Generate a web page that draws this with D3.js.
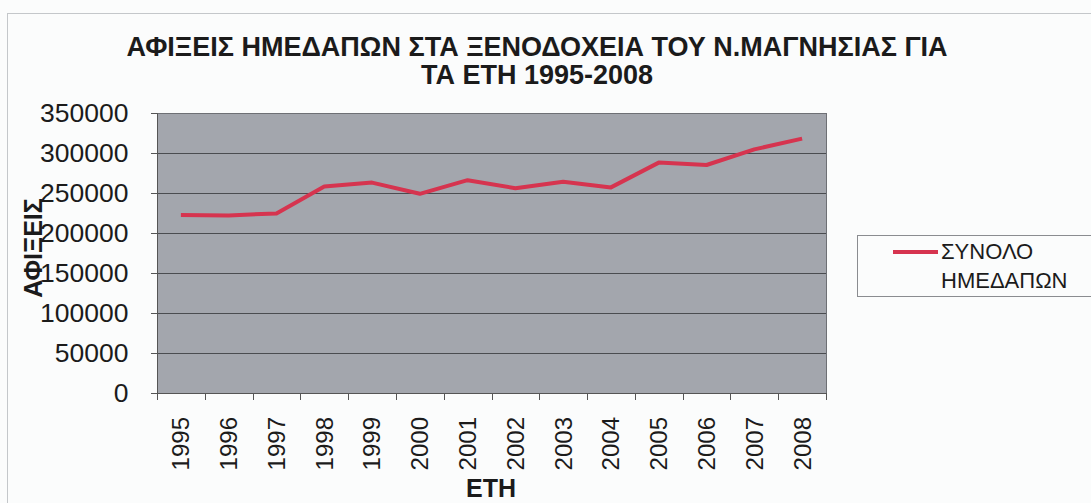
<!DOCTYPE html>
<html>
<head>
<meta charset="utf-8">
<script src="https://cdn.jsdelivr.net/npm/d3@7"></script>
<style>
  body { margin: 0; background: #fbfcfc; }
  svg text { font-family: "Liberation Sans", Arial, sans-serif; fill: #1b1b1b; }
</style>
</head>
<body>
<svg id="chart" width="1091" height="503"></svg>
<script>
// Chart data
const years = ["1995", "1996", "1997", "1998", "1999", "2000", "2001",
               "2002", "2003", "2004", "2005", "2006", "2007", "2008"]
const arrivals = [222500, 222000, 224500, 258000, 263000, 249000, 266000,
                  256000, 264000, 257000, 288000, 285000, 304500, 318000]
const yTicks = [0, 50000, 100000, 150000, 200000, 250000, 300000, 350000]
const titleLines = ["ΑΦΙΞΕΙΣ ΗΜΕΔΑΠΩΝ ΣΤΑ ΞΕΝΟΔΟΧΕΙΑ ΤΟΥ Ν.ΜΑΓΝΗΣΙΑΣ ΓΙΑ",
                    "ΤΑ ΕΤΗ 1995-2008"]
const legendLines = ["ΣΥΝΟΛΟ", "ΗΜΕΔΑΠΩΝ"]

const svg = d3.select("#chart")
const plot = { left: 157, right: 826, top: 113, bottom: 393 }

// outer chart frame
svg.append("rect")
  .attr("x", 7.5).attr("y", 13.5)
  .attr("width", 1100).attr("height", 500)
  .attr("fill", "#fbfcfc")
  .attr("stroke", "#c4c7ca")

// title
svg.append("text")
  .attr("text-anchor", "middle")
  .style("font-weight", "bold").style("font-size", "27px")
  .selectAll("tspan")
  .data(titleLines)
  .enter().append("tspan")
  .attr("x", 537)
  .attr("y", (d, i) => 56 + i * 28)
  .text(d => d)

// scales
const x = d3.scaleBand().domain(years).range([plot.left, plot.right])
const y = d3.scaleLinear().domain([0, 350000]).range([plot.bottom, plot.top])

// plot area background
svg.append("rect")
  .attr("x", plot.left).attr("y", plot.top)
  .attr("width", plot.right - plot.left).attr("height", plot.bottom - plot.top)
  .attr("fill", "#a3a6ad")

// horizontal gridlines
svg.append("g")
  .selectAll("line")
  .data(yTicks)
  .enter().append("line")
  .attr("x1", plot.left).attr("x2", plot.right)
  .attr("y1", d => Math.round(y(d)) + 0.5).attr("y2", d => Math.round(y(d)) + 0.5)
  .attr("stroke", "#4a4c50").attr("stroke-width", 1)

// plot border
svg.append("rect")
  .attr("x", plot.left + 0.5).attr("y", plot.top + 0.5)
  .attr("width", plot.right - plot.left).attr("height", plot.bottom - plot.top)
  .attr("fill", "none").attr("stroke", "#6e7075")

// y axis
const yAxis = svg.append("g")
  .attr("transform", `translate(${plot.left},0)`)
  .call(d3.axisLeft(y).tickValues(yTicks).tickSize(6).tickPadding(21).tickFormat(d3.format("d")))
yAxis.select(".domain").attr("stroke", "#555")
yAxis.selectAll(".tick line").attr("stroke", "#555")
yAxis.selectAll(".tick text")
  .style("font-size", "25px").attr("fill", "#1b1b1b")
  .attr("transform", "scale(1.06,1)")

// x axis: category boundary ticks
svg.append("g")
  .selectAll("line")
  .data(years.concat(["end"]))
  .enter().append("line")
  .attr("x1", (d, i) => Math.round(i < years.length ? x(d) : plot.right) + 0.5)
  .attr("x2", (d, i) => Math.round(i < years.length ? x(d) : plot.right) + 0.5)
  .attr("y1", plot.bottom).attr("y2", plot.bottom + 7)
  .attr("stroke", "#555")

const xAxis = svg.append("g")
  .attr("transform", `translate(0,${plot.bottom})`)
  .call(d3.axisBottom(x).tickSize(0))
xAxis.select(".domain").attr("stroke", "#555")
xAxis.selectAll(".tick text")
  .style("font-size", "24px").attr("fill", "#1b1b1b")
  .attr("text-anchor", "end")
  .attr("transform", "rotate(-90)")
  .attr("x", -24).attr("y", 0).attr("dy", "0.35em")

// axis titles
svg.append("text")
  .attr("x", 491).attr("y", 497)
  .attr("text-anchor", "middle")
  .style("font-weight", "bold").style("font-size", "25px")
  .text("ΕΤΗ")

svg.append("text")
  .attr("transform", "translate(42,248) rotate(-90)")
  .attr("text-anchor", "middle")
  .style("font-weight", "bold").style("font-size", "25px")
  .text("ΑΦΙΞΕΙΣ")

// series line
const line = d3.line()
  .x((d, i) => x(years[i]) + x.bandwidth() / 2)
  .y(d => y(d))

svg.append("path")
  .datum(arrivals)
  .attr("d", line)
  .attr("fill", "none")
  .attr("stroke", "#d6344f")
  .attr("stroke-width", 4)
  .attr("stroke-linejoin", "round")

// legend
const legend = svg.append("g")
legend.append("rect")
  .attr("x", 857.5).attr("y", 235.5)
  .attr("width", 240).attr("height", 61)
  .attr("fill", "#fbfcfc").attr("stroke", "#8a8c90")
legend.append("line")
  .attr("x1", 893).attr("x2", 938)
  .attr("y1", 252).attr("y2", 252)
  .attr("stroke", "#d6344f").attr("stroke-width", 4)
legend.append("text")
  .style("font-size", "22px")
  .selectAll("tspan")
  .data(legendLines)
  .enter().append("tspan")
  .attr("x", 941)
  .attr("y", (d, i) => 259 + i * 29)
  .text(d => d)
</script>
</body>
</html>
